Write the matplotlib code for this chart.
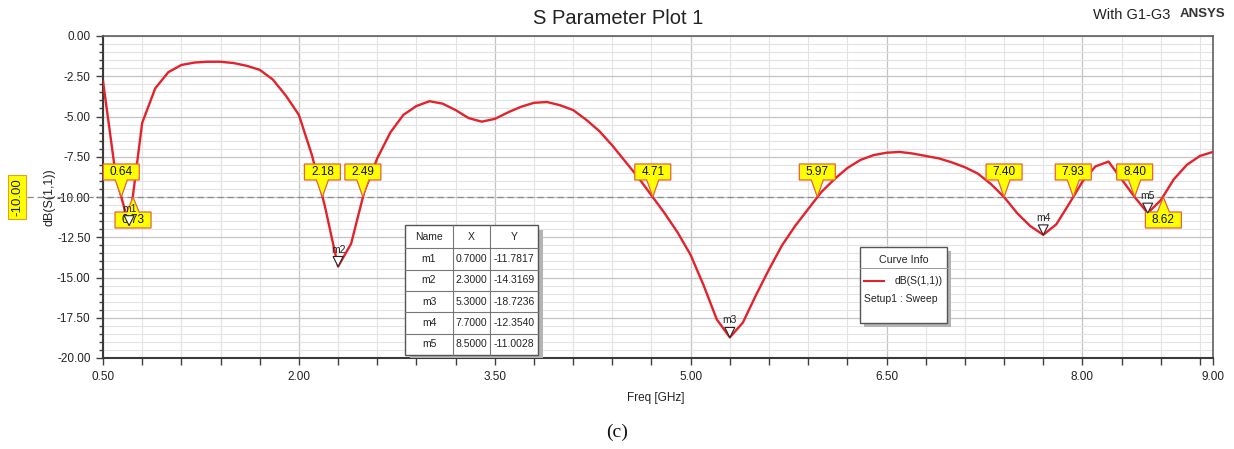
import numpy as np
import matplotlib
matplotlib.use("Agg")
import matplotlib.pyplot as plt
from matplotlib.patches import Polygon, Rectangle
from matplotlib.lines import Line2D
import matplotlib.transforms as mtransforms
from matplotlib.ticker import MultipleLocator, FixedLocator, FuncFormatter

plt.rcParams['font.family'] = ['Liberation Sans', 'DejaVu Sans']

# ---------------- data ----------------
freq = [0.5, 0.6, 0.7, 0.8, 0.9, 1.0, 1.1, 1.2, 1.3, 1.4,
        1.5, 1.6, 1.7, 1.8, 1.9, 2.0, 2.1, 2.2, 2.3, 2.4,
        2.5, 2.6, 2.7, 2.8, 2.9, 3.0, 3.1, 3.2, 3.3, 3.4,
        3.5, 3.6, 3.7, 3.8, 3.9, 4.0, 4.1, 4.2, 4.3, 4.4,
        4.5, 4.6, 4.7, 4.8, 4.9, 5.0, 5.1, 5.2, 5.3, 5.4,
        5.5, 5.6, 5.7, 5.8, 5.9, 6.0, 6.1, 6.2, 6.3, 6.4,
        6.5, 6.6, 6.7, 6.8, 6.9, 7.0, 7.1, 7.2, 7.3, 7.4,
        7.5, 7.6, 7.7, 7.8, 7.9, 8.0, 8.1, 8.2, 8.3, 8.4,
        8.5, 8.6, 8.7, 8.8, 8.9, 9.0]
s11_db = [-2.8, -8.8, -11.78, -5.4, -3.25, -2.25, -1.8, -1.65, -1.6, -1.6,
          -1.68, -1.85, -2.1, -2.7, -3.7, -4.9, -7.4, -10.6, -14.32, -12.9,
          -9.7, -7.6, -6.0, -4.9, -4.35, -4.05, -4.2, -4.6, -5.1, -5.32,
          -5.15, -4.75, -4.4, -4.15, -4.1, -4.3, -4.6, -5.2, -5.9, -6.8,
          -7.8, -8.8, -9.9, -11.0, -12.2, -13.6, -15.5, -17.6, -18.72, -17.8,
          -16.1, -14.5, -13.0, -11.8, -10.75, -9.7, -8.9, -8.2, -7.7, -7.4,
          -7.25, -7.2, -7.3, -7.45, -7.6, -7.85, -8.15, -8.55, -9.2, -10.0,
          -11.0, -11.8, -12.35, -11.7, -10.4, -9.05, -8.1, -7.8, -8.9, -10.0,
          -11.0, -10.2, -8.9, -8.0, -7.45, -7.2]

marker_names = ['m1', 'm2', 'm3', 'm4', 'm5']
marker_x = [0.7000, 2.3000, 5.3000, 7.7000, 8.5000]
marker_y = [-11.7817, -14.3169, -18.7236, -12.3540, -11.0028]

threshold = -10.0
crossings = [0.64, 0.73, 2.18, 2.49, 4.71, 5.97, 7.40, 7.93, 8.40, 8.62]
crossings_below = [0.73, 8.62]   # labels drawn under the line

x_ticks = [0.5, 2.0, 3.5, 5.0, 6.5, 8.0, 9.0]
y_ticks = [0.0, -2.5, -5.0, -7.5, -10.0, -12.5, -15.0, -17.5, -20.0]

# ---------------- figure ----------------
W, H = 1234, 449
fig = plt.figure(figsize=(W / 100, H / 100), dpi=100)
ax = fig.add_axes([103 / W, 1 - 358 / H, 1110 / W, 322 / H])
ax.set_xlim(0.5, 9.0)
ax.set_ylim(-20, 0)

# grid
minor_x = [v for v in np.round(np.arange(0.5, 9.0, 0.3), 2) if v not in x_ticks]
ax.xaxis.set_major_locator(FixedLocator(x_ticks))
ax.xaxis.set_minor_locator(FixedLocator(minor_x))
ax.yaxis.set_major_locator(FixedLocator(y_ticks))
ax.yaxis.set_minor_locator(MultipleLocator(0.5))
ax.grid(which='major', color='#c4c4c4', lw=0.9)
ax.grid(which='minor', color='#e3e3e3', lw=0.8)
ax.set_axisbelow(True)
fmt = FuncFormatter(lambda v, p: f"{v:.2f}")
ax.xaxis.set_major_formatter(fmt)
ax.yaxis.set_major_formatter(fmt)
ax.tick_params(which='major', length=5, width=1, color='#404040',
               labelsize=8.5, labelcolor='#222222', direction='out')
ax.tick_params(axis='y', which='major', pad=4)
ax.tick_params(axis='x', which='major', pad=4)
ax.tick_params(axis='x', which='minor', length=5, width=1, color='#404040')
ax.tick_params(axis='y', which='minor', length=3, width=1, color='#404040')
for s in ['left', 'bottom']:
    ax.spines[s].set_color('#3a3a3a')
    ax.spines[s].set_linewidth(1.5)
for s in ['top', 'right']:
    ax.spines[s].set_color('#606060')
    ax.spines[s].set_linewidth(1.2)

# -10 dB reference line (extends to the left label)
blend = mtransforms.blended_transform_factory(fig.transFigure, ax.transData)
ax.add_line(Line2D([27 / W, 1213 / W], [threshold, threshold], transform=blend,
                   color='#8a8a8a', lw=0.9, ls=(0, (5, 3)), clip_on=False, zorder=2))
ax.text(17 / W, threshold, f"{threshold:.2f}", transform=blend, rotation=90,
        ha='center', va='center', fontsize=9.5, color='#222222', clip_on=False,
        bbox=dict(boxstyle='square,pad=0.22', fc='#ffff00', ec='#e0a020', lw=0.8))

# curve
ax.plot(freq, s11_db, color='#e3222b', lw=1.7, zorder=3)


def ptrans(x, y):
    return fig.dpi_scale_trans + mtransforms.ScaledTranslation(x, y, ax.transData)


# crossing labels
for cx in crossings:
    tr = ptrans(cx, threshold)
    if cx in crossings_below:
        verts = [(-18, -15), (-6, -15), (0, 0), (6, -15), (18, -15), (18, -31), (-18, -31)]
        ty = -23
    else:
        verts = [(-18, 17), (-6, 17), (0, 0), (6, 17), (18, 17), (18, 33), (-18, 33)]
        ty = 25
    verts = [(a / 100, b / 100) for a, b in verts]
    ax.add_patch(Polygon(verts, closed=True, transform=tr, fc='#ffff00',
                         ec='#e8603c', lw=0.9, zorder=5, clip_on=False))
    ax.text(0, ty / 100, f"{cx:.2f}", transform=tr, ha='center', va='center',
            fontsize=8.5, color='#111111', zorder=6, clip_on=False)

# markers
for name, mx, my in zip(marker_names, marker_x, marker_y):
    tr = ptrans(mx, my)
    verts = [(0, 0), (-5 / 100, 10 / 100), (5 / 100, 10 / 100)]
    ax.add_patch(Polygon(verts, closed=True, transform=tr, fc='white',
                         ec='#222222', lw=0.8, zorder=7))
    ax.text(0, 17 / 100, name, transform=tr, ha='center', va='center',
            fontsize=7.5, color='#222222', zorder=8)


# ---------------- pixel-placed boxes ----------------
def F(px, py):
    return (px / W, 1 - py / H)


def rect(x0, y0, x1, y1, **kw):
    fx0, fy1 = F(x0, y1)
    r = Rectangle((fx0, fy1), (x1 - x0) / W, (y1 - y0) / H,
                  transform=fig.transFigure, **kw)
    fig.patches.append(r)
    return r


def hline(x0, x1, y, **kw):
    fig.lines.append(Line2D([x0 / W, x1 / W], [1 - y / H, 1 - y / H],
                            transform=fig.transFigure, **kw))


def vline(x, y0, y1, **kw):
    fig.lines.append(Line2D([x / W, x / W], [1 - y0 / H, 1 - y1 / H],
                            transform=fig.transFigure, **kw))


# marker table
tx = [405, 453, 490, 538]
ty0, th_head, th_row = 225, 23.3, 21.35
tbot = ty0 + th_head + th_row * len(marker_names)
rect(tx[0] + 5, ty0 + 5, tx[-1] + 5, tbot + 3, fc='#b4b4b4', ec='none', zorder=10)
rect(tx[0], ty0, tx[-1], tbot, fc='white', ec='#555555', lw=1.0, zorder=11)
for xx in tx[1:-1]:
    vline(xx, ty0, tbot, color='#777777', lw=0.8, zorder=12)
rows_y = [ty0 + th_head + i * th_row for i in range(len(marker_names))]
for yy in rows_y:
    hline(tx[0], tx[-1], yy, color='#777777', lw=0.8, zorder=12)
cx_cols = [(tx[i] + tx[i + 1]) / 2 for i in range(3)]
for c, lab in zip(cx_cols, ['Name', 'X', 'Y']):
    fig.text(*F(c, ty0 + th_head / 2), lab, ha='center', va='center',
             fontsize=7.5, color='#222222', zorder=13)
for i, (name, mx, my) in enumerate(zip(marker_names, marker_x, marker_y)):
    yc = rows_y[i] + th_row / 2
    for c, lab in zip(cx_cols, [name, f"{mx:.4f}", f"{my:.4f}"]):
        fig.text(*F(c, yc), lab, ha='center', va='center',
                 fontsize=7.5, color='#222222', zorder=13)

# curve info legend
lx0, lx1, ly0, ly1 = 860, 947, 247, 323
rect(lx0 + 4, ly0 + 4, lx1 + 4, ly1 + 4, fc='#b4b4b4', ec='none', zorder=10)
rect(lx0, ly0, lx1, ly1, fc='white', ec='#555555', lw=1.0, zorder=11)
hline(lx0, lx1, 268, color='#999999', lw=0.7, zorder=12)
fig.text(*F((lx0 + lx1) / 2, 260), 'Curve Info', ha='center', va='center',
         fontsize=7.7, color='#222222', zorder=13)
hline(864, 884, 281, color='#e3222b', lw=1.5, zorder=12)
fig.text(*F(943, 281), 'dB(S(1,1))', ha='right', va='center',
         fontsize=7.5, color='#222222', zorder=13)
fig.text(*F(864, 299), 'Setup1 : Sweep', ha='left', va='center',
         fontsize=7.5, color='#222222', zorder=13)

# titles and labels
fig.text(*F(618, 18), 'S Parameter Plot 1', ha='center', va='center',
         fontsize=14.5, color='#222222')
fig.text(*F(1170, 15), 'With G1-G3', ha='right', va='center',
         fontsize=10.5, color='#222222')
fig.text(*F(1225, 14), 'ANSYS', ha='right', va='center',
         fontsize=9.5, fontweight='bold', color='#333333')
fig.text(*F(49, 197), 'dB(S(1,1))', ha='center', va='center', rotation=90,
         fontsize=9, color='#222222')
fig.text(*F(656, 398), 'Freq [GHz]', ha='center', va='center',
         fontsize=8.5, color='#222222')
fig.text(*F(617, 432), '(c)', ha='center', va='center',
         fontsize=14, family=['Liberation Serif', 'DejaVu Serif'], color='#111111')

fig.savefig('out.png', dpi=100)
